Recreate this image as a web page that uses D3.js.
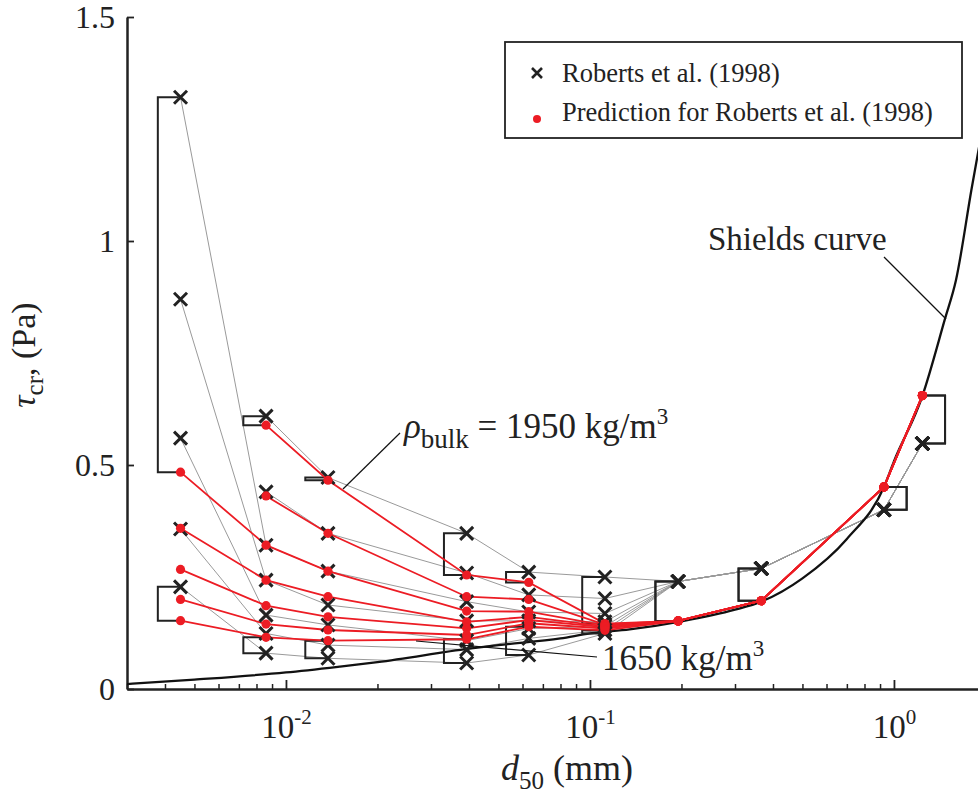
<!DOCTYPE html>
<html>
<head>
<meta charset="utf-8">
<script src="https://cdn.jsdelivr.net/npm/d3@7"></script>
<style>
  body { margin: 0; background: #fff; }
  text { font-family: "Liberation Serif", "Times New Roman", serif; fill: #222; }
</style>
</head>
<body>
<svg id="chart" width="978" height="793"></svg>
<script>
// grain size of each sample (mm)
const d50 = [0.0045, 0.0086, 0.01375, 0.0393, 0.0629, 0.112, 0.195, 0.366, 0.927, 1.24];

// measured critical shear stress (Pa), one row per bulk density (high -> low)
const tauObs = [
  [null, 0.609, 0.472, 0.3475, 0.261, 0.250, 0.240, 0.269, 0.400, 0.548],
  [null, 0.440, 0.3475, 0.259, 0.210, 0.202, 0.240, 0.269, 0.400, 0.548],
  [1.321, 0.321, 0.263, 0.195, 0.172, 0.1685, 0.240, 0.269, 0.400, 0.548],
  [0.870, 0.243, 0.1875, 0.152, 0.152, 0.150, 0.240, 0.269, 0.400, 0.548],
  [0.560, 0.165, 0.143, 0.108, 0.135, 0.140, 0.240, 0.269, 0.400, 0.548],
  [0.357, 0.124, 0.098, 0.088, 0.113, 0.132, 0.240, 0.269, 0.400, 0.548],
  [0.228, 0.080, 0.0685, 0.058, 0.076, 0.124, 0.240, 0.269, 0.400, 0.548]
];

// predicted critical shear stress (Pa), same rows
const tauPred = [
  [null, 0.589, 0.466, 0.2545, 0.238, 0.146, 0.152, 0.197, 0.451, 0.655],
  [null, 0.431, 0.3475, 0.206, 0.200, 0.144, 0.152, 0.197, 0.451, 0.655],
  [0.484, 0.321, 0.263, 0.174, 0.1725, 0.142, 0.152, 0.197, 0.451, 0.655],
  [0.3587, 0.243, 0.206, 0.150, 0.161, 0.140, 0.152, 0.197, 0.451, 0.655],
  [0.267, 0.186, 0.161, 0.1355, 0.154, 0.138, 0.152, 0.197, 0.451, 0.655],
  [0.200, 0.145, 0.1317, 0.1205, 0.1467, 0.135, 0.152, 0.197, 0.451, 0.655],
  [0.1525, 0.1154, 0.1078, 0.111, 0.139, 0.131, 0.152, 0.197, 0.451, 0.655]
];

// Shields curve
const shieldsD   = [0.003, 0.005, 0.01, 0.015, 0.02, 0.04, 0.05, 0.08, 0.1, 0.135, 0.2, 0.3, 0.366, 0.5, 0.7, 0.927, 1.0, 1.24, 1.47, 1.6, 1.8, 2.0];
const shieldsTau = [0.011, 0.021, 0.037, 0.050, 0.060, 0.090, 0.098, 0.113, 0.124, 0.133, 0.151, 0.177, 0.195, 0.247, 0.335, 0.451, 0.508, 0.654, 0.825, 0.913, 1.116, 1.29];

const yTicks = [0, 0.5, 1, 1.5];
const xMajor = [0.01, 0.1, 1];
const xMajorExp = ["-2", "-1", "0"];

const redColor = "#ec1c24";
const grayColor = "#9a9a9a";

let svg = d3.select("#chart");

let x = d3.scaleLog()
  .domain([0.003, 2])
  .range([127, 127 + 304 * Math.log10(2 / 0.003)]);
let y = d3.scaleLinear()
  .domain([0, 1.5])
  .range([689, 17]);

// axes
let minor = [];
[0.001, 0.01, 0.1, 1].forEach(p => {
  for (let k = 2; k <= 9; k++) {
    let v = p * k;
    if (v >= 0.003 && v <= 2) minor.push(v);
  }
});

svg.append("g")
  .attr("transform", "translate(0," + y(0) + ")")
  .call(d3.axisBottom(x).tickValues(minor).tickSizeInner(-5).tickSizeOuter(0).tickFormat(""))
  .call(g => g.select(".domain").remove())
  .call(g => g.selectAll("line").attr("stroke", "#222").attr("stroke-width", 1.5));

let xAxis = svg.append("g")
  .attr("transform", "translate(0," + y(0) + ")")
  .call(d3.axisBottom(x).tickValues(xMajor).tickSizeInner(-9).tickSizeOuter(0).tickFormat(""));
xAxis.select(".domain").attr("stroke", "#222").attr("stroke-width", 2.5);
xAxis.selectAll("line").attr("stroke", "#222").attr("stroke-width", 1.8);
xAxis.selectAll(".tick text").remove();
xAxis.selectAll(".tick").append("text")
  .attr("y", 49)
  .attr("text-anchor", "middle")
  .style("font-size", "33px")
  .each(function(d, i) {
    let t = d3.select(this);
    t.append("tspan").text("10");
    t.append("tspan").attr("dy", -14).style("font-size", "21px").text(xMajorExp[i]);
  });

let yAxis = svg.append("g")
  .attr("transform", "translate(" + x(0.003) + ",0)")
  .call(d3.axisLeft(y).tickValues(yTicks).tickSizeInner(-7).tickSizeOuter(0).tickPadding(12).tickFormat(d => String(d)));
yAxis.select(".domain").attr("stroke", "#222").attr("stroke-width", 2.5);
yAxis.selectAll("line").attr("stroke", "#222").attr("stroke-width", 1.8);
yAxis.selectAll("text")
  .attr("fill", "#222")
  .style("font-family", "Liberation Serif")
  .style("font-size", "32px");

// axis titles
let yTitle = svg.append("text")
  .attr("transform", "translate(35,355) rotate(-90)")
  .attr("text-anchor", "middle")
  .style("font-size", "34px");
yTitle.append("tspan").style("font-style", "italic").text("τ");
yTitle.append("tspan").attr("dy", 8).style("font-size", "25px").text("cr");
yTitle.append("tspan").attr("dy", -8).text(", (Pa)");

let xTitle = svg.append("text")
  .attr("x", 567)
  .attr("y", 780)
  .attr("text-anchor", "middle")
  .style("font-size", "36px");
xTitle.append("tspan").style("font-style", "italic").text("d");
xTitle.append("tspan").attr("dy", 9).style("font-size", "25px").text("50");
xTitle.append("tspan").attr("dy", -9).text(" (mm)");

let line = d3.line()
  .defined(d => d[1] != null)
  .x(d => x(d[0]))
  .y(d => y(d[1]));

// measured data connected by density
svg.append("g").selectAll("path")
  .data(tauObs)
  .enter()
  .append("path")
    .attr("d", row => line(row.map((v, i) => [d50[i], v])))
    .attr("fill", "none")
    .attr("stroke", grayColor)
    .attr("stroke-width", 1);

// Shields curve
svg.append("path")
  .attr("d", d3.line().curve(d3.curveMonotoneX)
    .x((d, i) => x(shieldsD[i]))
    .y((d, i) => y(shieldsTau[i]))(shieldsD))
  .attr("fill", "none")
  .attr("stroke", "#111")
  .attr("stroke-width", 2.3);

// brackets joining the extremes of measured and predicted values
let brackets = [];
d50.forEach((d, j) => {
  let obs = tauObs.map(r => r[j]).filter(v => v != null);
  let pred = tauPred.map(r => r[j]).filter(v => v != null);
  let side = j >= 8 ? 1 : -1;
  brackets.push({d: d, a: d3.max(obs), b: d3.max(pred), side: side});
  brackets.push({d: d, a: d3.min(pred), b: d3.min(obs), side: side});
});
svg.append("g").selectAll("path")
  .data(brackets)
  .enter()
  .append("path")
    .attr("d", b => {
      let cx = x(b.d) + b.side * 2;
      let ex = x(b.d) + b.side * 22.7;
      return "M" + cx + "," + y(b.a) + "H" + ex + "V" + y(b.b) + "H" + cx;
    })
    .attr("fill", "none")
    .attr("stroke", "#222")
    .attr("stroke-width", 2);

// predictions connected by density
svg.append("g").selectAll("path")
  .data(tauPred)
  .enter()
  .append("path")
    .attr("d", row => line(row.map((v, i) => [d50[i], v])))
    .attr("fill", "none")
    .attr("stroke", redColor)
    .attr("stroke-width", 1.8);

// X markers
let obsPts = [];
tauObs.forEach(row => row.forEach((v, i) => { if (v != null) obsPts.push([d50[i], v]); }));
svg.append("g").selectAll("path")
  .data(obsPts)
  .enter()
  .append("path")
    .attr("d", "M-6.5,-6.5L6.5,6.5M6.5,-6.5L-6.5,6.5")
    .attr("transform", p => "translate(" + x(p[0]) + "," + y(p[1]) + ")")
    .attr("stroke", "#222")
    .attr("stroke-width", 3)
    .attr("fill", "none");

// predicted dots
let predPts = [];
tauPred.forEach(row => row.forEach((v, i) => { if (v != null) predPts.push([d50[i], v]); }));
svg.append("g").selectAll("circle")
  .data(predPts)
  .enter()
  .append("circle")
    .attr("cx", p => x(p[0]))
    .attr("cy", p => y(p[1]))
    .attr("r", 4.6)
    .attr("fill", redColor);

// annotations
svg.append("line")
  .attr("x1", 400).attr("y1", 433)
  .attr("x2", 343).attr("y2", 489)
  .attr("stroke", "#111").attr("stroke-width", 1.2);
let rhoText = svg.append("text")
  .attr("x", 404)
  .attr("y", 438)
  .style("font-size", "35px");
rhoText.append("tspan").style("font-style", "italic").text("ρ");
rhoText.append("tspan").attr("dy", 10).style("font-size", "27px").text("bulk");
rhoText.append("tspan").attr("dy", -10).text(" = 1950 kg/m");
rhoText.append("tspan").attr("dy", -14).style("font-size", "23px").text("3");

svg.append("line")
  .attr("x1", 416).attr("y1", 641)
  .attr("x2", 597).attr("y2", 657)
  .attr("stroke", "#111").attr("stroke-width", 1.2);
let lowText = svg.append("text")
  .attr("x", 602)
  .attr("y", 670)
  .style("font-size", "35px");
lowText.append("tspan").text("1650 kg/m");
lowText.append("tspan").attr("dy", -14).style("font-size", "23px").text("3");

svg.append("line")
  .attr("x1", 884).attr("y1", 257)
  .attr("x2", 946).attr("y2", 319)
  .attr("stroke", "#111").attr("stroke-width", 1.2);
svg.append("text")
  .attr("x", 708)
  .attr("y", 250)
  .style("font-size", "33px")
  .text("Shields curve");

// legend
let legend = svg.append("g");
legend.append("rect")
  .attr("x", 505).attr("y", 42)
  .attr("width", 457).attr("height", 96)
  .attr("fill", "#fff")
  .attr("stroke", "#222")
  .attr("stroke-width", 1.8);
legend.append("path")
  .attr("d", "M-5,-5L5,5M5,-5L-5,5")
  .attr("transform", "translate(537,73)")
  .attr("stroke", "#222")
  .attr("stroke-width", 2.6);
legend.append("text")
  .attr("x", 562).attr("y", 82)
  .style("font-size", "26.5px")
  .text("Roberts et al. (1998)");
legend.append("circle")
  .attr("cx", 537).attr("cy", 119)
  .attr("r", 4)
  .attr("fill", redColor);
legend.append("text")
  .attr("x", 562).attr("y", 121)
  .style("font-size", "26.5px")
  .text("Prediction for Roberts et al. (1998)");
</script>
</body>
</html>
